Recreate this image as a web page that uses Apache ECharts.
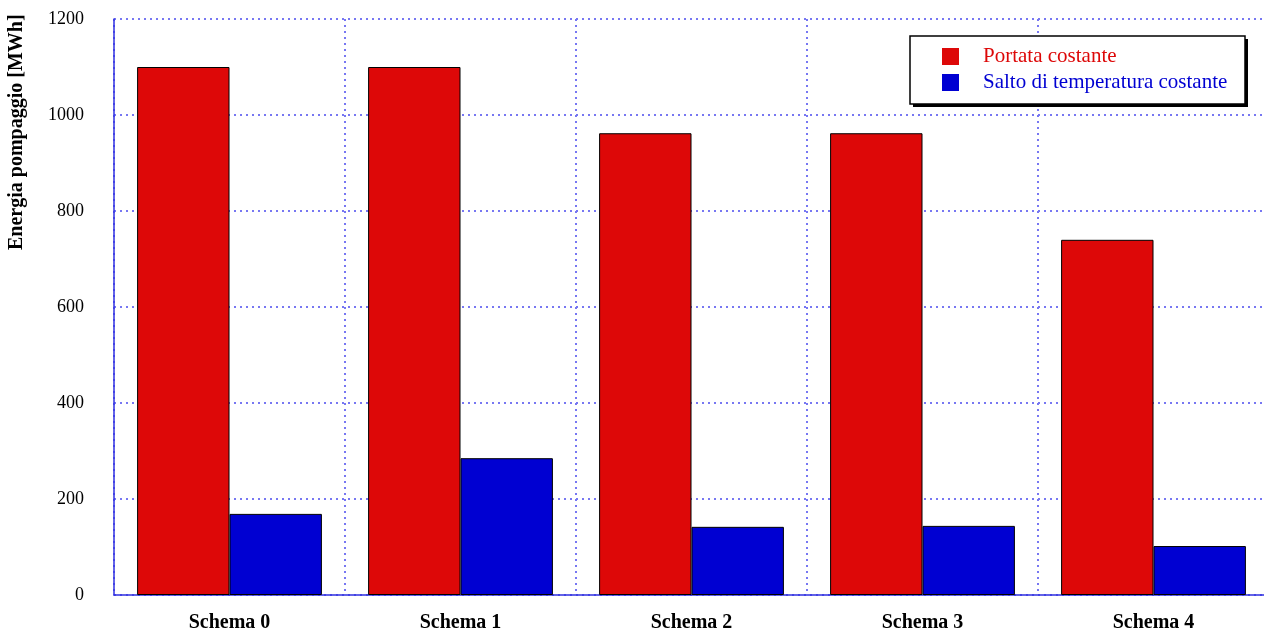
<!DOCTYPE html>
<html><head><meta charset="utf-8">
<script src="https://cdn.jsdelivr.net/npm/echarts@6/dist/echarts.min.js"></script>
<style>html,body{margin:0;padding:0;background:#fff}#c{width:1264px;height:631px}</style>
</head><body><div id="c"></div>
<script>
const categories = ['Schema 0','Schema 1','Schema 2','Schema 3','Schema 4'];
const portataCostante = [1100, 1100, 962, 962, 740];
const saltoTemperatura = [169, 285, 142, 144, 102];
const yTicks = {min: 0, max: 1200, interval: 200};
const seriesNames = ['Portata costante', 'Salto di temperatura costante'];
const yTitle = 'Energia pompaggio [MWh]';

const FONT = 'Liberation Serif';
const RED = '#dd0808', BLUE = '#0000d2', GRID = '#7777f2';
const chart = echarts.init(document.getElementById('c'), null, {renderer: 'canvas'});
chart.setOption({
  animation: false,
  backgroundColor: '#fff',
  grid: {left: 114, width: 1155, top: 19, bottom: 36, outerBoundsMode: 'none', containLabel: false},
  legend: {
    left: 942, top: 46, orient: 'vertical', z: 30,
    padding: 0,
    itemWidth: 17, itemHeight: 17, itemGap: 5,
    icon: 'rect',
    itemStyle: {borderWidth: 0},
    data: [
      {name: seriesNames[0], textStyle: {color: RED}},
      {name: seriesNames[1], textStyle: {color: BLUE}}
    ],
    textStyle: {fontFamily: FONT, fontSize: 21, padding: [0, 0, 0, 19]}
  },
  graphic: [
    {type: 'rect', z: 10, shape: {x: 913, y: 39, width: 335, height: 68}, style: {fill: '#000'}},
    {type: 'rect', z: 11, shape: {x: 910, y: 36, width: 335, height: 68}, style: {fill: '#fff', stroke: '#000', lineWidth: 1.5}},
    {
      type: 'text', rotation: Math.PI / 2, x: 7, y: 250, z: 12,
      style: {text: yTitle, font: 'bold 20px "' + FONT + '"', fill: '#000'}
    }
  ],
  xAxis: {
    type: 'category', data: categories,
    axisLine: {show: true, lineStyle: {color: '#3030e0', width: 1.5}},
    axisTick: {show: false},
    axisLabel: {fontFamily: FONT, fontWeight: 'bold', fontSize: 20, color: '#000', margin: 18},
    splitLine: {show: true, interval: 0, lineStyle: {color: GRID, type: [2, 4], width: 2}}
  },
  yAxis: {
    type: 'value', min: yTicks.min, max: yTicks.max, interval: yTicks.interval,
    axisLine: {show: true, lineStyle: {color: '#3030e0', width: 1.5}},
    axisTick: {show: false},
    axisLabel: {fontFamily: FONT, fontSize: 18, color: '#000', margin: 30, formatter: v => String(v)},
    splitLine: {show: true, lineStyle: {color: GRID, type: [2, 4], width: 2}}
  },
  series: [
    {name: seriesNames[0], type: 'bar', data: portataCostante, barGap: '0%', barCategoryGap: '20%',
     itemStyle: {color: RED, borderColor: '#000', borderWidth: 1}},
    {name: seriesNames[1], type: 'bar', data: saltoTemperatura,
     itemStyle: {color: BLUE, borderColor: '#000', borderWidth: 1}}
  ]
});
</script></body></html>
